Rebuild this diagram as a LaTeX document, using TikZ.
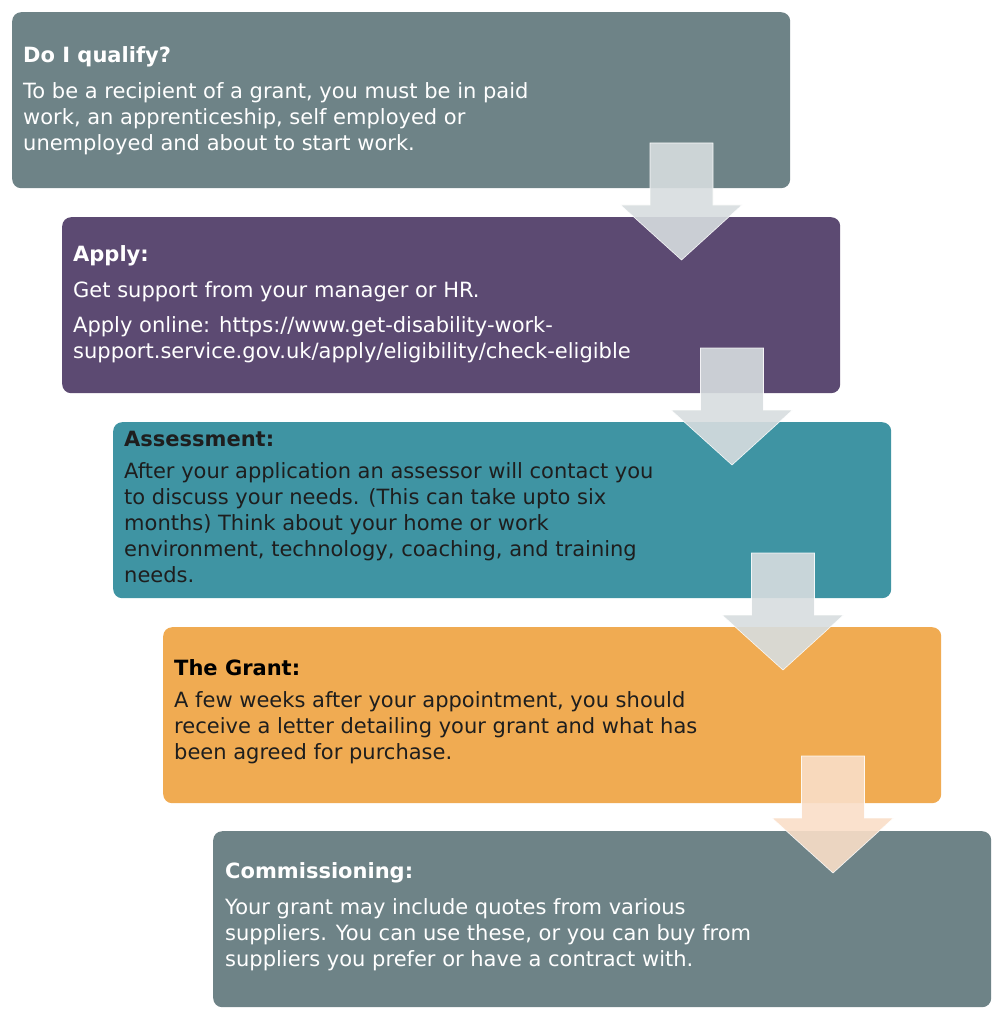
\documentclass[tikz,border=0pt]{standalone}
\usepackage{fontspec}
\setmainfont{DejaVu Sans}
\usetikzlibrary{positioning,calc}
\definecolor{slategrey}{HTML}{6E8387}
\definecolor{plum}{HTML}{5C4A72}
\definecolor{tealbox}{HTML}{3F94A3}
\definecolor{amber}{HTML}{F0AB52}
\definecolor{inkdark}{HTML}{1E1E1E}
\definecolor{mist}{HTML}{D7DDDF}
\definecolor{peach}{HTML}{F9DEC8}
\tikzset{
  stepbox/.style={rounded corners=9pt, minimum width=778pt, minimum height=176pt, anchor=north west, inner sep=0pt},
  boxtitle/.style={anchor=west, font=\fontsize{21}{26}\selectfont\bfseries, inner sep=0pt},
  boxtext/.style={anchor=north west, align=left, font=\fontsize{21}{26}\selectfont, inner sep=0pt},
  flow/.style={draw=white, line width=0.6pt, opacity=0.9}
}
% down arrow: top centre of shaft at #1, fill #2
\newcommand{\flowarrow}[2]{%
  \fill[flow, fill=#2] ($(#1)+(-31.5,0)$) -- ++(63,0) -- ++(0,62) -- ++(29,0)
    -- ($(#1)+(0,117)$) -- ($(#1)+(-61,62)$) -- ++(29.5,0) -- cycle;}
\begin{document}
\begin{tikzpicture}[x=1pt,y=-1pt]
\useasboundingbox (0,0) rectangle (996,1024);

\node[stepbox, fill=slategrey] (qualify) at (12,12) {};
\node[stepbox, fill=plum] (apply) at (62,217) {};
\node[stepbox, fill=tealbox] (assess) at (113,422) {};
\node[stepbox, fill=amber] (grant) at (163,627) {};
\node[stepbox, fill=slategrey] (commission) at (213,831) {};

\coordinate (a1) at (681.5,143);
\coordinate (a2) at (732,348);
\coordinate (a3) at (783,553);
\coordinate (a4) at (833,756);
\flowarrow{a1}{mist}
\flowarrow{a2}{mist}
\flowarrow{a3}{mist}
\flowarrow{a4}{peach}

% texts
\node[boxtitle, text=white] (qualifyT) at (23,57) {Do I qualify?};
\node[boxtext, text=white, below=15pt of qualifyT.south west, anchor=north west] (qualifyB)
  {To be a recipient of a grant, you must be in paid\\work, an apprenticeship, self employed or\\unemployed and about to start work.};

\node[boxtitle, text=white] (applyT) at (73,256) {Apply:};
\node[boxtext, text=white, below=15pt of applyT.south west, anchor=north west] (applyB)
  {Get support from your manager or HR.\\[9pt]Apply online: https://www.get-disability-work-\\support.service.gov.uk/apply/eligibility/check-eligible};

\node[boxtitle, text=inkdark] (assessT) at (124,439) {Assessment:};
\node[boxtext, text=inkdark, below=15pt of assessT.south west, anchor=north west] (assessB)
  {After your application an assessor will contact you\\to discuss your needs. (This can take upto six\\months) Think about your home or work\\environment, technology, coaching, and training\\needs.};

\node[boxtitle, text=black] (grantT) at (174,668) {The Grant:};
\node[boxtext, text=inkdark, below=15pt of grantT.south west, anchor=north west] (grantB)
  {A few weeks after your appointment, you should\\receive a letter detailing your grant and what has\\been agreed for purchase.};

\node[boxtitle, text=white] (commissionT) at (225,873) {Commissioning:};
\node[boxtext, text=white, below=15pt of commissionT.south west, anchor=north west] (commissionB)
  {Your grant may include quotes from various\\suppliers. You can use these, or you can buy from\\suppliers you prefer or have a contract with.};
\end{tikzpicture}
\end{document}
